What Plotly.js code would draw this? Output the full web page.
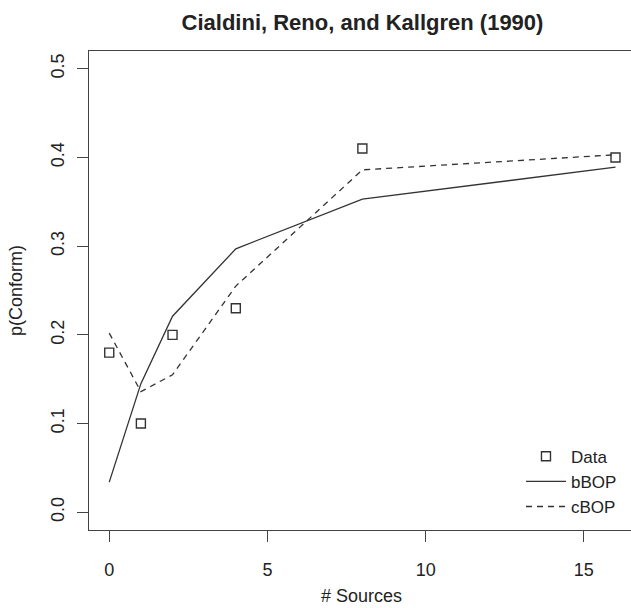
<!DOCTYPE html>
<html>
<head>
<meta charset="utf-8">
<script src="https://cdn.plot.ly/plotly-3.0.1.min.js"></script>
<style>
html,body{margin:0;padding:0;background:#fff;overflow:hidden;}
#chart{width:631px;height:608px;}
</style>
</head>
<body>
<div id="chart"></div>
<script>
// Data
const sources = [0, 1, 2, 4, 8, 16];
const dataConform = [0.18, 0.10, 0.20, 0.23, 0.41, 0.40];
const bBOP = [0.034, 0.145, 0.221, 0.297, 0.353, 0.389];
const cBOP = [0.202, 0.136, 0.155, 0.255, 0.386, 0.403];
const xTicks = [0, 5, 10, 15];
const yTicks = [0.0, 0.1, 0.2, 0.3, 0.4, 0.5];

const ink = '#333333';
const font = {family: 'Liberation Sans, Arial, sans-serif', size: 18, color: '#222'};

const traces = [
  {x: sources, y: dataConform, name: 'Data', type: 'scatter', mode: 'markers',
   marker: {symbol: 'square-open', size: 9, color: ink, line: {width: 1.4, color: ink}}},
  {x: sources, y: bBOP, name: 'bBOP', type: 'scatter', mode: 'lines',
   line: {color: ink, width: 1.3}},
  {x: sources, y: cBOP, name: 'cBOP', type: 'scatter', mode: 'lines',
   line: {color: ink, width: 1.3, dash: '6px,5px'}}
];

const layout = {
  width: 631, height: 608,
  margin: {l: 89, r: 0, t: 51, b: 78},
  paper_bgcolor: '#fff', plot_bgcolor: '#fff',
  font: font,
  showlegend: true,
  title: {text: '<b>Cialdini, Reno, and Kallgren (1990)</b>',
          font: {family: 'Liberation Sans, Arial, sans-serif', size: 22, color: '#222'},
          x: (89 + 636) / 2 / 631, xanchor: 'center', xref: 'container',
          y: 1 - 22 / 608, yanchor: 'middle', yref: 'container'},
  xaxis: {range: [-0.64, 16.49], tickvals: xTicks, ticktext: xTicks.map(String),
          showgrid: false, zeroline: false, showline: true, mirror: true,
          linecolor: '#444', linewidth: 1.2, ticks: 'outside', ticklen: 11,
          tickcolor: '#444', tickwidth: 1.2, ticklabelstandoff: 12},
  yaxis: {range: [-0.02, 0.52], tickvals: yTicks, ticktext: yTicks.map(v => v.toFixed(1)),
          showgrid: false, zeroline: false, showline: true, mirror: false,
          linecolor: '#444', linewidth: 1.2, ticks: 'outside', ticklen: 11,
          tickcolor: '#444', tickwidth: 1.2, tickangle: -90, ticklabelstandoff: 6,
          title: {text: 'p(Conform)', font: font, standoff: 20}},
  annotations: [
    {text: '# Sources', xref: 'paper', yref: 'paper', x: (361 - 89) / (631 - 89), y: 0,
     xanchor: 'center', yanchor: 'bottom', yshift: -78, showarrow: false, font: font}
  ],
  legend: {x: 0.797, xanchor: 'left', y: 0.011, yanchor: 'bottom', itemwidth: 40,
           bgcolor: 'rgba(0,0,0,0)', borderwidth: 0,
           font: {family: 'Liberation Sans, Arial, sans-serif', size: 17, color: '#222'}}
};

Plotly.newPlot('chart', traces, layout, {displayModeBar: false, staticPlot: true});
</script>
</body>
</html>
